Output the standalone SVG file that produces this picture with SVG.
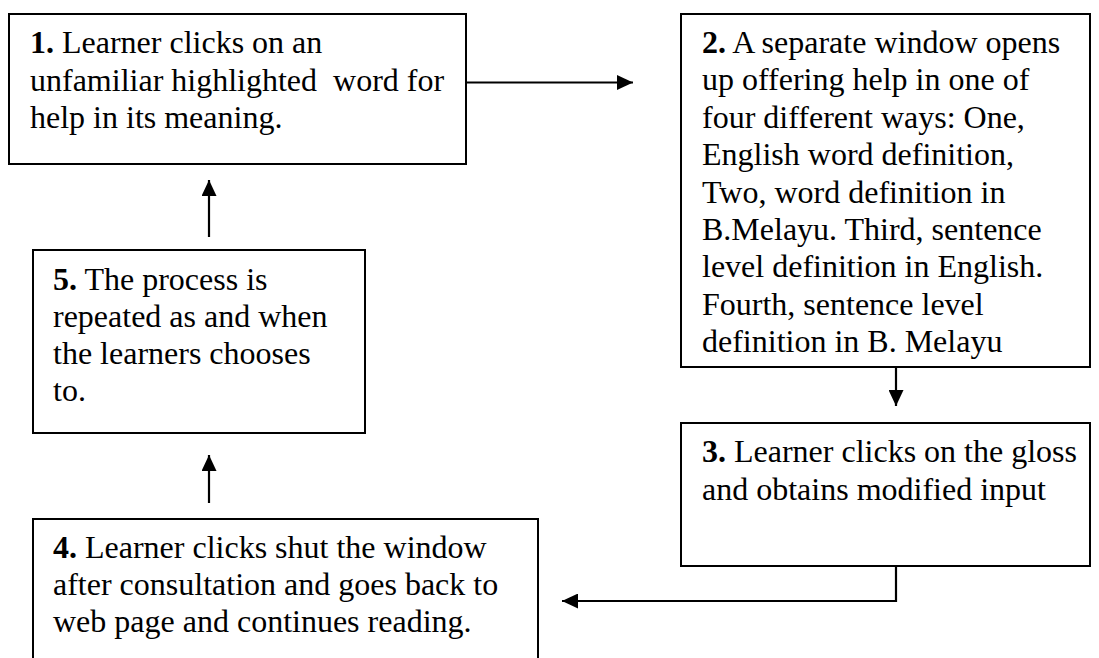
<svg xmlns="http://www.w3.org/2000/svg" width="1099" height="658" viewBox="0 0 1099 658">
<style>
.box{fill:#fff;stroke:#000;stroke-width:2}
.t{font-family:"Liberation Serif","Times New Roman",serif;font-size:32px;fill:#000}
.b{font-weight:bold}
.c{fill:none;stroke:#000;stroke-width:2.2}
</style>
<defs>
<marker id="ah" markerUnits="userSpaceOnUse" markerWidth="16" markerHeight="15" refX="16" refY="7.5" orient="auto">
<path d="M0,0 L16,7.5 L0,15 Z" fill="#000"/>
</marker>
</defs>
<rect width="1099" height="658" fill="#fff"/>
<g id="connectors">
<path class="c" d="M466,82.5 H633" marker-end="url(#ah)"/>
<path class="c" d="M896,367 V406" marker-end="url(#ah)"/>
<path class="c" d="M896,566 V601 H562" marker-end="url(#ah)"/>
<path class="c" d="M209,503 V455" marker-end="url(#ah)"/>
<path class="c" d="M209,237 V180" marker-end="url(#ah)"/>
</g>
<g id="node1">
<rect class="box" x="9" y="14" width="457" height="150"/>
<text class="t" xml:space="preserve"><tspan x="30" y="53"><tspan class="b">1.</tspan> Learner clicks on an</tspan><tspan x="30" y="90.5">unfamiliar highlighted  word for</tspan><tspan x="30" y="128">help in its meaning.</tspan></text>
</g>
<g id="node2">
<rect class="box" x="681" y="14" width="409" height="353"/>
<text class="t"><tspan x="702" y="53"><tspan class="b">2.</tspan> A separate window opens</tspan><tspan x="702" y="90.4">up offering help in one of</tspan><tspan x="702" y="127.8">four different ways: One,</tspan><tspan x="702" y="165.2">English word definition,</tspan><tspan x="702" y="202.6">Two, word definition in</tspan><tspan x="702" y="240">B.Melayu. Third, sentence</tspan><tspan x="702" y="277.4">level definition in English.</tspan><tspan x="702" y="314.8">Fourth, sentence level</tspan><tspan x="702" y="352.2">definition in B. Melayu</tspan></text>
</g>
<g id="node3">
<rect class="box" x="681" y="423" width="409" height="143"/>
<text class="t"><tspan x="702" y="462"><tspan class="b">3.</tspan> Learner clicks on the gloss</tspan><tspan x="702" y="499.5">and obtains modified input</tspan></text>
</g>
<g id="node4">
<rect class="box" x="33" y="519" width="505" height="170"/>
<text class="t"><tspan x="53" y="558"><tspan class="b">4.</tspan> Learner clicks shut the window</tspan><tspan x="53" y="595">after consultation and goes back to</tspan><tspan x="53" y="632">web page and continues reading.</tspan></text>
</g>
<g id="node5">
<rect class="box" x="33" y="250" width="332" height="183"/>
<text class="t"><tspan x="53" y="290"><tspan class="b">5.</tspan> The process is</tspan><tspan x="53" y="327">repeated as and when</tspan><tspan x="53" y="364">the learners chooses</tspan><tspan x="53" y="400.5">to.</tspan></text>
</g>
</svg>
